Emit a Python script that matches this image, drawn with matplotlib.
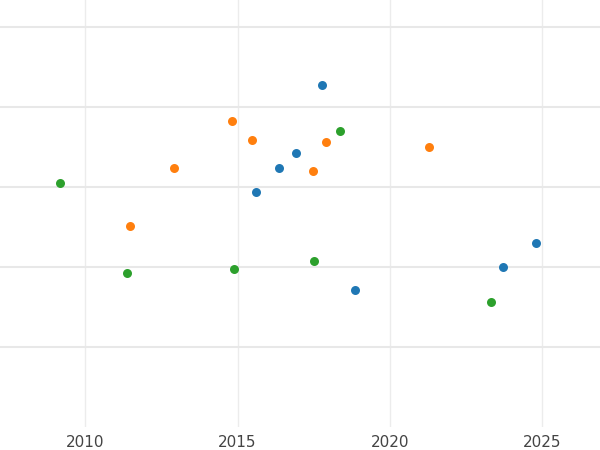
import matplotlib
matplotlib.use("Agg")
import matplotlib.pyplot as plt

blue_x = [2017.76, 2016.91, 2016.35, 2015.60, 2024.80, 2023.72, 2018.84]
blue_y = [42.75, 34.25, 32.4, 29.4, 23.0, 20.0, 17.1]
orange_x = [2014.81, 2015.47, 2017.89, 2021.27, 2012.92, 2017.47, 2011.47]
orange_y = [38.25, 35.9, 35.6, 35.0, 32.4, 32.0, 25.1]
green_x = [2009.18, 2018.35, 2011.38, 2014.88, 2017.50, 2023.33]
green_y = [30.5, 37.0, 19.25, 19.75, 20.75, 15.6]
xticks = [2010, 2015, 2020, 2025]
yticks = [10, 20, 30, 40, 50]

fig = plt.figure(figsize=(6, 4.5), dpi=100)
ax = fig.add_axes([0, 1 - 427 / 450, 1, 427 / 450])
ax.scatter(blue_x, blue_y, s=42, color="#1f77b4", zorder=3, linewidths=0)
ax.scatter(orange_x, orange_y, s=42, color="#ff7f0e", zorder=3, linewidths=0)
ax.scatter(green_x, green_y, s=42, color="#2ca02c", zorder=3, linewidths=0)

ax.set_xlim(2007.21, 2026.89)
ax.set_ylim(0, 53.375)
ax.set_xticks(xticks)
ax.set_yticks(yticks)
ax.set_yticklabels([])
ax.tick_params(axis="both", length=0, labelsize=11, labelcolor="#444444", pad=6)
for s in ax.spines.values():
    s.set_visible(False)
ax.grid(axis="y", color="#e8e8e8", linewidth=1.5, zorder=0)
ax.grid(axis="x", color="#ececec", linewidth=1.0, zorder=0)
ax.set_axisbelow(True)

fig.savefig("out.png", dpi=100)
